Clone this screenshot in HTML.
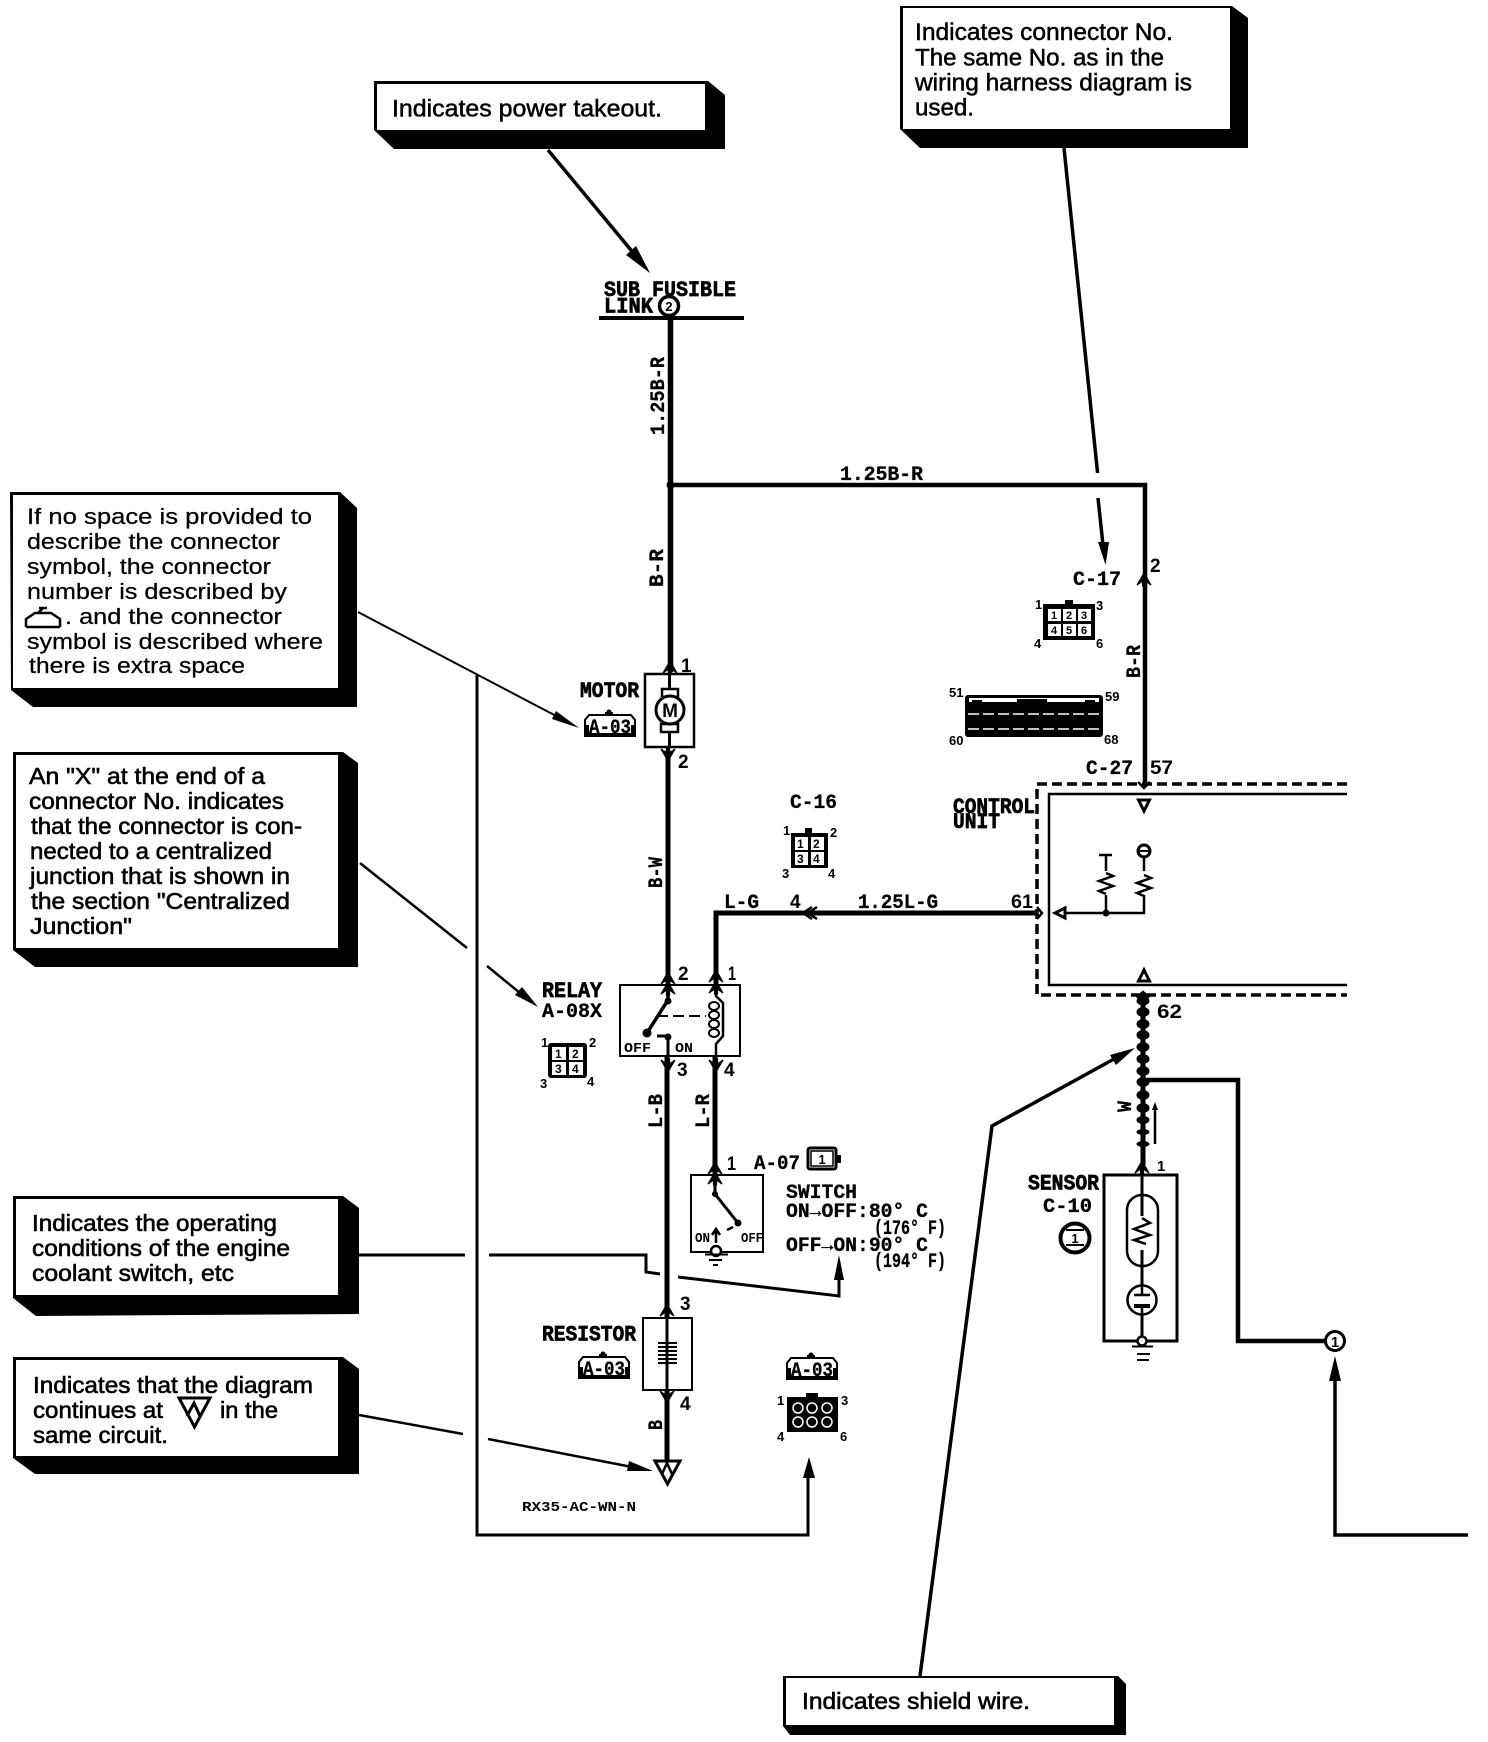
<!DOCTYPE html>
<html><head><meta charset="utf-8"><title>Wiring diagram legend</title>
<style>
html,body{margin:0;padding:0;background:#fff}
svg{display:block}
text{fill:#000}
.s{font-family:"Liberation Sans",sans-serif;font-size:22px;stroke:#000;stroke-width:.25}
.c{font-family:"Liberation Sans",sans-serif;font-size:24px;stroke:#000;stroke-width:.5}
.t{font-family:"Liberation Sans",sans-serif;font-size:23px;stroke:#000;stroke-width:.6}
.m{font-family:"Liberation Mono",monospace;font-weight:bold;font-size:20px;stroke:#000;stroke-width:.3}
.h{font-family:"Liberation Mono",monospace;font-weight:bold;font-size:22px;stroke:#000;stroke-width:.7}
.n{font-family:"Liberation Sans",sans-serif;font-weight:bold;font-size:19px}
.k{font-family:"Liberation Sans",sans-serif;font-weight:bold;font-size:13px}
.o{font-family:"Liberation Mono",monospace;font-weight:bold;font-size:14px}
use.a{stroke:#000;stroke-width:1.2}
</style></head><body>
<svg width="1488" height="1742" viewBox="0 0 1488 1742" xmlns="http://www.w3.org/2000/svg">
<defs>
<path id="up" d="M-7 6L0-6L7 6L1.5 2V7H-1.5V2Z"/>
<path id="dn" d="M-7-6L0 6L7-6L1.5-2V-7H-1.5V-2Z"/>
<g id="tag"><path d="M0 24V8L4 3H46L50 8V24Z" fill="#fff" stroke="#000" stroke-width="2"/><path d="M0 24V13L4 13V21H46V13L50 13V24Z"/><circle cx="24" cy="0" r="2.5"/><rect x="20" y="0" width="8" height="3"/></g>
<path id="zig" d="M0-10L7-7L-7-2L7 3L-7 8L0 11" fill="none" stroke="#000" stroke-width="2.5"/>
</defs>
<rect width="1488" height="1742" fill="#fff"/>

<!-- callout boxes -->
<polygon points="374,81 708,81 725,95 725,149 394,149 374,130"/><rect x="377" y="84" width="328" height="46" fill="#fff"/>
<text class="c" x="392" y="116.500" textLength="270" lengthAdjust="spacingAndGlyphs">Indicates power takeout.</text>

<polygon points="900,6 1232,6 1248,18 1248,148 920,148 900,129"/><rect x="903" y="8" width="327" height="121" fill="#fff"/>
<text class="c" x="915" y="40" textLength="258" lengthAdjust="spacingAndGlyphs">Indicates connector No.</text>
<text class="c" x="915" y="65.500" textLength="249" lengthAdjust="spacingAndGlyphs">The same No. as in the</text>
<text class="c" x="915" y="90.500" textLength="277" lengthAdjust="spacingAndGlyphs">wiring harness diagram is</text>
<text class="c" x="915" y="115.500" textLength="59" lengthAdjust="spacingAndGlyphs">used.</text>

<polygon points="10,492 340,492 357,508 357,707 33,707 11,690"/><rect x="13" y="495" width="325" height="193" fill="#fff"/>
<text class="s" x="27" y="524" textLength="285" lengthAdjust="spacingAndGlyphs">If no space is provided to</text>
<text class="s" x="27" y="549" textLength="253" lengthAdjust="spacingAndGlyphs">describe the connector</text>
<text class="s" x="27" y="574" textLength="244" lengthAdjust="spacingAndGlyphs">symbol, the connector</text>
<text class="s" x="27" y="599" textLength="260" lengthAdjust="spacingAndGlyphs">number is described by</text>
<path d="M26 627V619L35 613H51L60 619V627M26 627H60M38 613L43 608H39M47 608H43" fill="none" stroke="#000" stroke-width="2.500"/>
<text class="s" x="65" y="624" textLength="217" lengthAdjust="spacingAndGlyphs">. and the connector</text>
<text class="s" x="27" y="649" textLength="296" lengthAdjust="spacingAndGlyphs">symbol is described where</text>
<text class="s" x="29" y="673" textLength="216" lengthAdjust="spacingAndGlyphs">there is extra space</text>

<polygon points="13,752 343,752 358,763 358,967 35,967 13,950"/><rect x="16" y="755" width="322" height="193" fill="#fff"/>
<text class="t" x="29" y="784" textLength="236" lengthAdjust="spacingAndGlyphs">An "X" at the end of a</text>
<text class="t" x="29" y="809" textLength="255" lengthAdjust="spacingAndGlyphs">connector No. indicates</text>
<text class="t" x="31" y="834" textLength="271" lengthAdjust="spacingAndGlyphs">that the connector is con-</text>
<text class="t" x="30" y="859" textLength="242" lengthAdjust="spacingAndGlyphs">nected to a centralized</text>
<text class="t" x="30" y="884" textLength="260" lengthAdjust="spacingAndGlyphs">junction that is shown in</text>
<text class="t" x="31" y="909" textLength="259" lengthAdjust="spacingAndGlyphs">the section "Centralized</text>
<text class="t" x="30" y="934" textLength="102" lengthAdjust="spacingAndGlyphs">Junction"</text>

<polygon points="13,1196 343,1196 359,1208 359,1314 36,1316 13,1298"/><rect x="16" y="1199" width="322" height="96" fill="#fff"/>
<text class="t" x="32" y="1231" textLength="245" lengthAdjust="spacingAndGlyphs">Indicates the operating</text>
<text class="t" x="32" y="1256" textLength="258" lengthAdjust="spacingAndGlyphs">conditions of the engine</text>
<text class="t" x="32" y="1281" textLength="202" lengthAdjust="spacingAndGlyphs">coolant switch, etc</text>

<polygon points="13,1357 343,1357 359,1369 359,1474 35,1474 13,1458"/><rect x="16" y="1360" width="322" height="96" fill="#fff"/>
<text class="t" x="33" y="1393" textLength="280" lengthAdjust="spacingAndGlyphs">Indicates that the diagram</text>
<text class="t" x="33" y="1418" textLength="130" lengthAdjust="spacingAndGlyphs">continues at</text>
<path d="M179 1398H210L194.500 1427ZM187 1416L194 1403L200 1416" fill="none" stroke="#000" stroke-width="3"/>
<text class="t" x="220" y="1418" textLength="58" lengthAdjust="spacingAndGlyphs">in the</text>
<text class="t" x="33" y="1443" textLength="135" lengthAdjust="spacingAndGlyphs">same circuit.</text>

<polygon points="783,1676 1118,1676 1126,1684 1126,1735 790,1735 783,1726"/><rect x="786" y="1678" width="328" height="47" fill="#fff"/>
<text class="t" x="802" y="1709" textLength="228" lengthAdjust="spacingAndGlyphs">Indicates shield wire.</text>

<!-- callout leaders -->
<g fill="none" stroke="#000" stroke-linejoin="miter">
<path d="M548 150L640 261" stroke-width="3.500"/>
<path d="M1064 148L1097.600 473M1098 498L1103 545" stroke-width="3.500"/>
<path d="M358 612L560 718" stroke-width="2"/>
<path d="M360 863L467 948M487 966L520 993" stroke-width="2.500"/>
<path d="M359 1255H465M489 1255H646V1272L660 1274M678 1277L839 1296V1275" stroke-width="3"/>
<path d="M359 1415L463 1434M488 1439L632 1467" stroke-width="2.500"/>
<path d="M920 1676L992 1126L1114 1059" stroke-width="3.500"/>
<path d="M477 675V1535H808V1474" stroke-width="3"/>
<path d="M1335 1376V1535H1468" stroke-width="3.500"/>
</g>
<polygon points="650,273 626,255 636,246"/>
<polygon points="1105.600,565 1098,542 1109,542"/>
<polygon points="579,728 552,719 556,711"/>
<polygon points="538,1007 515,995 522,987"/>
<polygon points="653,1471 627,1471 629,1461"/>
<polygon points="1135,1048 1116,1065 1110,1055"/>
<polygon points="839,1255 834,1280 844,1280"/>
<polygon points="809,1457 803,1478 815,1478"/>
<polygon points="1335,1356 1329,1381 1341,1381"/>

<!-- wires -->
<g fill="none" stroke="#000" stroke-linejoin="miter">
<path d="M599 318H744" stroke-width="4"/>
<path d="M670.500 318V672" stroke-width="5.500"/>
<path d="M670 485H1145V787" stroke-width="4.500"/>
<path d="M668 750V985" stroke-width="5"/>
<path d="M1037 913H716V985" stroke-width="5"/>
<path d="M667 1056V1318" stroke-width="5"/>
<path d="M715 1056V1175" stroke-width="5"/>
<path d="M667 1390V1462" stroke-width="5"/>
<path d="M1143 992V1165" stroke-width="5"/>
<path d="M1147 1080H1238V1341H1325" stroke-width="4.500"/>
</g>
<circle cx="670.500" cy="485" r="4"/>

<!-- fusible link -->
<text class="h" x="604" y="296" textLength="132" lengthAdjust="spacingAndGlyphs">SUB FUSIBLE</text>
<text class="h" x="604" y="312.500" textLength="49" lengthAdjust="spacingAndGlyphs">LINK</text>
<circle cx="669" cy="306" r="9.500" fill="#fff" stroke="#000" stroke-width="3.500"/>
<text class="k" x="669" y="311" text-anchor="middle">2</text>

<!-- wire labels -->
<text class="m" transform="translate(664,435) rotate(-90)" textLength="78" lengthAdjust="spacingAndGlyphs">1.25B-R</text>
<text class="m" transform="translate(663,587) rotate(-90)" textLength="38" lengthAdjust="spacingAndGlyphs">B-R</text>
<text class="m" x="840" y="480" textLength="83" lengthAdjust="spacingAndGlyphs">1.25B-R</text>
<text class="m" transform="translate(662,888) rotate(-90)" textLength="31" lengthAdjust="spacingAndGlyphs">B-W</text>
<text class="m" transform="translate(662,1128) rotate(-90)" textLength="34" lengthAdjust="spacingAndGlyphs">L-B</text>
<text class="m" transform="translate(709,1128) rotate(-90)" textLength="34" lengthAdjust="spacingAndGlyphs">L-R</text>
<text class="m" transform="translate(662,1430) rotate(-90)" textLength="10" lengthAdjust="spacingAndGlyphs">B</text>
<text class="m" transform="translate(1140,678) rotate(-90)" textLength="33" lengthAdjust="spacingAndGlyphs">B-R</text>
<text class="m" transform="translate(1131,1112) rotate(-90)" textLength="11" lengthAdjust="spacingAndGlyphs">W</text>
<text class="m" x="724" y="908" textLength="35" lengthAdjust="spacingAndGlyphs">L-G</text>
<text class="n" x="790" y="908">4</text>
<path d="M817 907L808 913L817 919M812 907L803 913L812 919" fill="none" stroke="#000" stroke-width="2.500"/>
<text class="m" x="858" y="908" textLength="80" lengthAdjust="spacingAndGlyphs">1.25L-G</text>
<text class="n" x="1011" y="908" textLength="22" lengthAdjust="spacingAndGlyphs">61</text>

<!-- motor -->
<use class="a" href="#up" x="670" y="667"/><text class="n" x="681" y="672">1</text>
<rect x="645" y="674" width="49" height="73" fill="#fff" stroke="#000" stroke-width="2.500"/>
<path d="M669.500 674V692M669.500 730V747" stroke="#000" stroke-width="3"/>
<rect x="662" y="689" width="16" height="8" fill="#fff" stroke="#000" stroke-width="2.500"/>
<rect x="661" y="724" width="17" height="8" fill="#fff" stroke="#000" stroke-width="2.500"/>
<circle cx="670" cy="710" r="14" fill="#fff" stroke="#000" stroke-width="3"/>
<text x="670" y="717" text-anchor="middle" style="font:bold 19px 'Liberation Sans',sans-serif">M</text>
<use class="a" href="#dn" x="668" y="755"/><text class="n" x="678" y="768">2</text>
<text class="h" x="580" y="697" textLength="59" lengthAdjust="spacingAndGlyphs">MOTOR</text>
<use href="#tag" x="585" y="712"/>
<text class="m" x="589" y="733" textLength="42" lengthAdjust="spacingAndGlyphs">A-03</text>

<!-- C-16 -->
<text class="m" x="790" y="808" textLength="47" lengthAdjust="spacingAndGlyphs">C-16</text>
<rect x="791" y="833" width="37" height="35"/><rect x="805" y="828" width="7" height="5"/>
<rect x="795" y="837" width="13" height="13" fill="#fff"/><rect x="811" y="837" width="13" height="13" fill="#fff"/>
<rect x="795" y="852" width="13" height="13" fill="#fff"/><rect x="811" y="852" width="13" height="13" fill="#fff"/>
<g class="k" style="font-size:12px"><text x="797" y="848">1</text><text x="813" y="848">2</text><text x="797" y="863">3</text><text x="813" y="863">4</text></g>
<g class="k"><text x="783" y="835">1</text><text x="830" y="837">2</text><text x="782" y="878">3</text><text x="828" y="878">4</text></g>

<!-- relay -->
<text class="h" x="542" y="997" textLength="60" lengthAdjust="spacingAndGlyphs">RELAY</text>
<text class="m" x="542" y="1017" textLength="60" lengthAdjust="spacingAndGlyphs">A-08X</text>
<rect x="620" y="985" width="120" height="71" fill="#fff" stroke="#000" stroke-width="2"/>
<use class="a" href="#up" x="668" y="978"/><use class="a" href="#up" x="668" y="988"/><use class="a" href="#up" x="716" y="976"/><use class="a" href="#up" x="716" y="987"/>
<text class="n" x="678" y="980">2</text><text class="n" x="728" y="980" textLength="8" lengthAdjust="spacingAndGlyphs">1</text>
<path d="M668 985V1000L647 1033" fill="none" stroke="#000" stroke-width="3.500"/>
<circle cx="668" cy="1001" r="3.500"/><circle cx="647" cy="1033" r="4.500"/>
<path d="M657 1016H706" stroke="#000" stroke-width="2" stroke-dasharray="11 5"/>
<circle cx="668" cy="1037" r="3.500"/><path d="M657 1036H668V1056" fill="none" stroke="#000" stroke-width="3"/>
<path d="M716 985V996L723 1003V1036L716 1044V1056" fill="none" stroke="#000" stroke-width="2.500"/>
<g fill="#fff" stroke="#000" stroke-width="2"><ellipse cx="714" cy="1006" rx="5" ry="4"/><ellipse cx="714" cy="1015" rx="5" ry="4"/><ellipse cx="714" cy="1024" rx="5" ry="4"/><ellipse cx="714" cy="1033" rx="5" ry="4"/></g>
<text class="o" x="624" y="1052" textLength="27" lengthAdjust="spacingAndGlyphs">OFF</text>
<text class="o" x="675" y="1052" textLength="18" lengthAdjust="spacingAndGlyphs">ON</text>
<use class="a" href="#dn" x="668" y="1066"/><use class="a" href="#dn" x="716" y="1066"/>
<text class="n" x="677" y="1076">3</text><text class="n" x="724" y="1076">4</text>
<rect x="548" y="1043" width="39" height="35" rx="3"/>
<rect x="552" y="1047" width="14" height="13" fill="#fff"/><rect x="569" y="1047" width="14" height="13" fill="#fff"/>
<rect x="552" y="1062" width="14" height="13" fill="#fff"/><rect x="569" y="1062" width="14" height="13" fill="#fff"/>
<g class="k" style="font-size:12px"><text x="555" y="1058">1</text><text x="572" y="1058">2</text><text x="555" y="1073">3</text><text x="572" y="1073">4</text></g>
<g class="k"><text x="541" y="1047">1</text><text x="589" y="1047">2</text><text x="540" y="1088">3</text><text x="587" y="1086">4</text></g>

<!-- switch -->
<use class="a" href="#up" x="715" y="1168"/><text class="n" x="727" y="1170" textLength="9" lengthAdjust="spacingAndGlyphs">1</text>
<text class="m" x="754" y="1169" textLength="46" lengthAdjust="spacingAndGlyphs">A-07</text>
<rect x="808" y="1148" width="28" height="21" rx="2" fill="#fff" stroke="#000" stroke-width="3"/><rect x="811" y="1151" width="22" height="15" fill="#fff" stroke="#000" stroke-width="1.500"/>
<text class="k" x="822" y="1164" text-anchor="middle">1</text><rect x="836" y="1155" width="5" height="8"/>
<rect x="691" y="1175" width="72" height="77" fill="#fff" stroke="#000" stroke-width="2"/>
<use class="a" href="#up" x="715" y="1178"/>
<path d="M715 1178V1194L738 1223" fill="none" stroke="#000" stroke-width="3"/>
<circle cx="715" cy="1194" r="3"/><circle cx="738" cy="1223" r="3.500"/>
<path d="M716 1243V1231M712 1235L716 1229L720 1235M727 1230L733 1227" fill="none" stroke="#000" stroke-width="2.500"/>
<text class="o" x="695" y="1242" textLength="15" lengthAdjust="spacingAndGlyphs">ON</text>
<text class="o" x="741" y="1242" textLength="22" lengthAdjust="spacingAndGlyphs">OFF</text>
<circle cx="716" cy="1251" r="5" fill="#fff" stroke="#000" stroke-width="2.500"/>
<path d="M705 1254.500H728M709 1260H722M713 1265H718" stroke="#000" stroke-width="2"/>
<text class="m" x="786" y="1198" textLength="71" lengthAdjust="spacingAndGlyphs">SWITCH</text>
<text class="m" x="786" y="1217" textLength="142" lengthAdjust="spacingAndGlyphs">ON→OFF:80° C</text>
<text class="m" x="874" y="1234" textLength="72" lengthAdjust="spacingAndGlyphs">(176° F)</text>
<text class="m" x="786" y="1251" textLength="142" lengthAdjust="spacingAndGlyphs">OFF→ON:90° C</text>
<text class="m" x="874" y="1267" textLength="72" lengthAdjust="spacingAndGlyphs">(194° F)</text>

<!-- resistor -->
<use class="a" href="#up" x="667" y="1310"/><text class="n" x="680" y="1310">3</text>
<rect x="643" y="1318" width="49" height="72" fill="#fff" stroke="#000" stroke-width="2"/>
<path d="M667 1318V1390" stroke="#000" stroke-width="3"/>
<path d="M658 1343H677M658 1347H677M658 1351H677M658 1355H677M658 1359H677M658 1363H677" stroke="#000" stroke-width="2"/>
<use class="a" href="#dn" x="667" y="1397"/><text class="n" x="680" y="1410">4</text>
<text class="h" x="542" y="1340.700" textLength="94" lengthAdjust="spacingAndGlyphs">RESISTOR</text>
<use href="#tag" x="579" y="1354"/>
<text class="m" x="583" y="1375" textLength="42" lengthAdjust="spacingAndGlyphs">A-03</text>
<path d="M655 1461H680L667.500 1484Z" fill="#fff" stroke="#000" stroke-width="3"/>
<path d="M662 1474L667 1463L672 1474" fill="none" stroke="#000" stroke-width="2.500"/>
<text class="o" x="522" y="1511" textLength="114" lengthAdjust="spacingAndGlyphs">RX35-AC-WN-N</text>

<use href="#tag" x="787" y="1355"/>
<text class="m" x="791" y="1376" textLength="42" lengthAdjust="spacingAndGlyphs">A-03</text>
<rect x="787" y="1397" width="51" height="35"/><rect x="806" y="1393" width="12" height="5"/>
<g fill="none" stroke="#fff" stroke-width="1.500"><circle cx="798" cy="1408" r="5"/><circle cx="812" cy="1408" r="5"/><circle cx="827" cy="1408" r="5"/><circle cx="798" cy="1422" r="5"/><circle cx="812" cy="1422" r="5"/><circle cx="827" cy="1422" r="5"/></g>
<g class="k"><text x="777" y="1405">1</text><text x="841" y="1405">3</text><text x="777" y="1441">4</text><text x="840" y="1441">6</text></g>

<!-- C-17 etc -->
<text class="m" x="1073" y="585" textLength="48" lengthAdjust="spacingAndGlyphs">C-17</text>
<use class="a" href="#up" x="1144" y="579"/><text class="n" x="1150" y="572">2</text>
<rect x="1043" y="604" width="52" height="36"/><rect x="1065" y="600" width="8" height="4"/>
<g fill="#fff"><rect x="1048" y="609" width="13" height="12"/><rect x="1063" y="609" width="13" height="12"/><rect x="1078" y="609" width="13" height="12"/><rect x="1048" y="624" width="13" height="12"/><rect x="1063" y="624" width="13" height="12"/><rect x="1078" y="624" width="13" height="12"/></g>
<g class="k" style="font-size:11px"><text x="1051" y="619">1</text><text x="1066" y="619">2</text><text x="1081" y="619">3</text><text x="1051" y="634">4</text><text x="1066" y="634">5</text><text x="1081" y="634">6</text></g>
<g class="k"><text x="1035" y="609">1</text><text x="1096" y="610">3</text><text x="1034" y="648">4</text><text x="1096" y="648">6</text></g>
<rect x="965" y="695" width="138" height="42" rx="3"/>
<rect x="969" y="698" width="130" height="4" fill="#fff"/><rect x="1017" y="699" width="30" height="3"/><rect x="972" y="700" width="10" height="3"/><rect x="1085" y="700" width="10" height="3"/>
<path d="M968 714H1100M968 729H1100" stroke="#fff" stroke-width="1.500" stroke-dasharray="11 4"/>
<g class="k"><text x="949" y="697">51</text><text x="1105" y="701">59</text><text x="949" y="745">60</text><text x="1104" y="744">68</text></g>
<text class="m" x="1086" y="774" textLength="47" lengthAdjust="spacingAndGlyphs">C-27</text>
<text class="n" x="1150" y="774" textLength="23" lengthAdjust="spacingAndGlyphs">57</text>

<!-- control unit -->
<text class="h" x="953" y="813" textLength="82" lengthAdjust="spacingAndGlyphs">CONTROL</text>
<text class="h" x="953" y="828" textLength="47" lengthAdjust="spacingAndGlyphs">UNIT</text>
<path d="M1347 784H1037V995H1347" fill="none" stroke="#000" stroke-width="3.500" stroke-dasharray="10 5"/>
<path d="M1347 794H1049V985H1347" fill="none" stroke="#000" stroke-width="2.500"/>
<path d="M1138 782L1144 788L1150 782M1037 907L1042 913L1037 919" fill="none" stroke="#000" stroke-width="2.500"/>
<path d="M1138.500 800H1149.500L1144 811Z" fill="#fff" stroke="#000" stroke-width="3"/>
<path d="M1065 908V918L1055 913Z" fill="#fff" stroke="#000" stroke-width="3"/>
<path d="M1065 913H1144V895M1106 913V856M1099 855H1112M1144 858V873" fill="none" stroke="#000" stroke-width="2.500"/>
<circle cx="1106" cy="913" r="3.500"/>
<rect x="1102" y="871" width="8" height="24" fill="#fff"/><rect x="1140" y="871" width="8" height="24" fill="#fff"/>
<use href="#zig" x="1106" y="883"/><use href="#zig" x="1144" y="885"/>
<circle cx="1144" cy="851" r="6" fill="#fff" stroke="#000" stroke-width="3"/><path d="M1138 851H1150" stroke="#000" stroke-width="2"/>
<path d="M1138.500 981H1149.500L1144 970Z" fill="#fff" stroke="#000" stroke-width="3"/>
<path d="M1137 998L1143 992L1149 998" fill="none" stroke="#000" stroke-width="2.500"/>
<text class="n" x="1157" y="1018" textLength="25" lengthAdjust="spacingAndGlyphs">62</text>

<!-- shield dots -->
<g>
<ellipse cx="1143" cy="1001" rx="6.500" ry="4.500"/><ellipse cx="1143" cy="1012" rx="6.500" ry="5"/><ellipse cx="1143" cy="1024" rx="6.500" ry="5"/><ellipse cx="1143" cy="1035" rx="6.500" ry="5"/><ellipse cx="1143" cy="1047" rx="6.500" ry="5"/><ellipse cx="1143" cy="1059" rx="6.500" ry="5"/><ellipse cx="1143" cy="1071" rx="6.500" ry="5"/><ellipse cx="1143" cy="1082" rx="6.500" ry="5"/><ellipse cx="1143" cy="1095" rx="6.500" ry="5"/><ellipse cx="1143" cy="1108" rx="6.500" ry="5"/><ellipse cx="1143" cy="1120" rx="6.500" ry="4"/><ellipse cx="1143" cy="1132" rx="6.500" ry="3"/><ellipse cx="1143" cy="1144" rx="6.500" ry="3"/>
</g>
<path d="M1155 1144V1108" stroke="#000" stroke-width="2.500"/><polygon points="1155,1102 1152,1110 1158,1110"/>

<!-- sensor -->
<use class="a" href="#up" x="1142" y="1167"/><text class="k" x="1157" y="1171" style="font-size:15px">1</text>
<text class="h" x="1028" y="1189.400" textLength="71" lengthAdjust="spacingAndGlyphs">SENSOR</text>
<text class="m" x="1043" y="1212" textLength="49" lengthAdjust="spacingAndGlyphs">C-10</text>
<circle cx="1075" cy="1238" r="14.500" fill="#fff" stroke="#000" stroke-width="4"/>
<path d="M1066 1230H1084M1066 1245H1084" stroke="#000" stroke-width="2"/>
<text class="k" x="1075" y="1243" text-anchor="middle">1</text>
<path d="M1104 1175H1177V1341H1104Z" fill="none" stroke="#000" stroke-width="3"/>
<path d="M1142 1165V1341" stroke="#000" stroke-width="3"/>
<rect x="1127" y="1195" width="31" height="71" rx="15" fill="#fff" stroke="#000" stroke-width="2.500"/>
<path d="M1142 1195V1216M1142 1250V1275" stroke="#000" stroke-width="3"/>
<g transform="translate(1142,1232)"><path d="M0-14L8-9L-8-3L8 3L-8 8L4 12" fill="none" stroke="#000" stroke-width="2.500"/></g>
<circle cx="1142" cy="1300" r="14.500" fill="#fff" stroke="#000" stroke-width="2.500"/>
<path d="M1142 1275V1295M1142 1306V1341M1134 1295H1150" stroke="#000" stroke-width="2.500"/>
<rect x="1134" y="1304" width="16" height="4"/>
<circle cx="1142" cy="1341" r="4.500" fill="#fff" stroke="#000" stroke-width="2.500"/>
<path d="M1132 1346.500H1153M1137 1354H1150M1137 1360H1149" stroke="#000" stroke-width="2"/>
<circle cx="1335" cy="1341" r="9.500" fill="#fff" stroke="#000" stroke-width="3"/>
<text class="k" x="1335" y="1347" text-anchor="middle" style="font-size:15px">1</text>
</svg>
</body></html>
